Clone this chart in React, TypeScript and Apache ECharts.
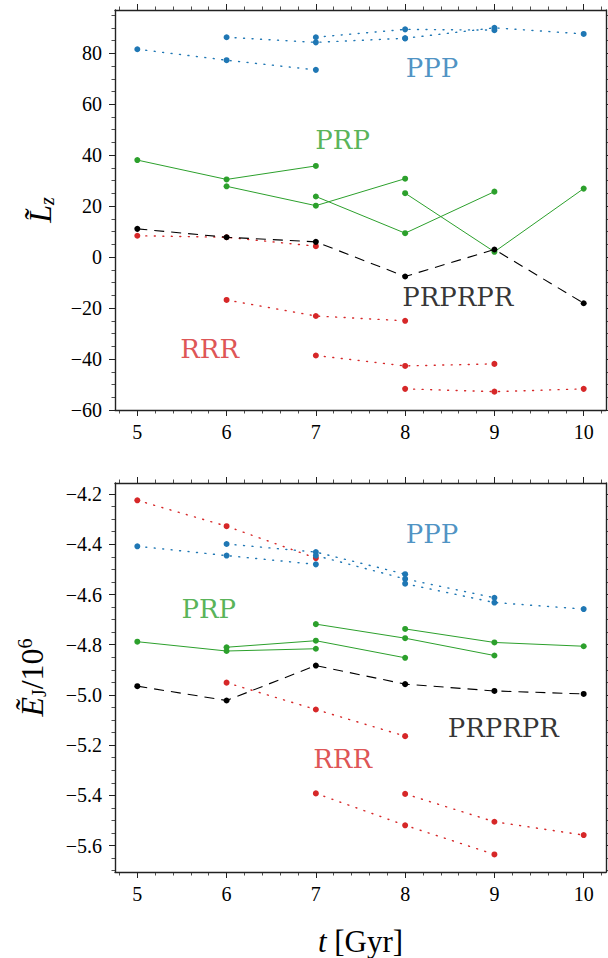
import React, { useEffect, useRef } from "react";
import * as echarts from "echarts";

// ---- data ----
const years = [5, 6, 7, 8, 9, 10];

// each family: 4 windows of 3 consecutive years, window i starts at years[i]
const lzPPP = [
  [81.6, 77.3, 73.5],
  [86.3, 84.3, 85.9],
  [86.3, 89.4, 89.1],
  [85.9, 90.0, 87.6],
];
const lzPRP = [
  [38.1, 30.5, 35.8],
  [27.8, 20.2, 30.8],
  [23.8, 9.4, 25.7],
  [25.1, 2.1, 26.9],
];
const lzRRR = [
  [8.4, 7.8, 4.3],
  [-16.8, -23.1, -25.0],
  [-38.6, -42.7, -41.9],
  [-51.7, -52.8, -51.7],
];
const lzPRPRPR = [11.1, 7.8, 6.0, -7.6, 3.0, -18.1];

const ejPPP = [
  [-4.408, -4.445, -4.48],
  [-4.399, -4.431, -4.519],
  [-4.445, -4.538, -4.613],
  [-4.557, -4.632, -4.658],
];
const ejPRP = [
  [-4.788, -4.825, -4.816],
  [-4.81, -4.784, -4.852],
  [-4.718, -4.774, -4.843],
  [-4.737, -4.791, -4.806],
];
const ejRRR = [
  [-4.225, -4.328, -4.455],
  [-4.951, -5.058, -5.164],
  [-5.392, -5.519, -5.635],
  [-5.394, -5.505, -5.558],
];
const ejPRPRPR = [-4.965, -5.022, -4.883, -4.957, -4.984, -4.996];

// tick labels
const xTicks = [5, 6, 7, 8, 9, 10];
const lzTicks = [-60, -40, -20, 0, 20, 40, 60, 80];
const ejTicks = [-5.6, -5.4, -5.2, -5.0, -4.8, -4.6, -4.4, -4.2];

// annotation text
const familyNames = ["PPP", "PRP", "PRPRPR", "RRR"];
const lzLabelAt = [
  [8.3, 74.2],
  [7.3, 46.1],
  [8.59, -15.8],
  [5.81, -36.1],
];
const ejLabelAt = [
  [8.3, -4.36],
  [5.8, -4.659],
  [9.1, -5.132],
  [7.3, -5.254],
];

const COLORS = {
  PPP: "#1f77b4",
  PRP: "#2ca02c",
  RRR: "#d62728",
  PRPRPR: "#000000",
};

const SERIF = "Liberation Serif";
const LABEL_FONT = "DejaVu Serif";

function range(a: number, b: number, step: number, scale: number) {
  const out: number[] = [];
  for (let v = a; v <= b; v += step) out.push(v / scale);
  return out;
}

const xMinor = range(480, 1020, 20, 100).filter((v) => Math.abs(v - Math.round(v)) > 1e-6);
const lzMinor = range(-60, 95, 5, 1).filter((v) => v % 20 !== 0);
const ejMinor = range(-570, -415, 5, 100).filter(
  (v) => Math.abs(v * 5 - Math.round(v * 5)) > 1e-6
);

const fmtNum = (v: number, digits: number) => {
  const s = Math.abs(v).toFixed(digits);
  return v < 0 ? "\u2212" + s : s;
};

const AXIS_COLOR = "#222";
const TICK_FS = 20;

function makeXAxes(gi: number, xmin: number, xmax: number, withName: boolean) {
  const base = {
    gridIndex: gi,
    type: "value" as const,
    min: xmin,
    max: xmax,
    splitLine: { show: false },
  };
  return [
    {
      ...base,
      position: "bottom",
      axisLine: { show: true, onZero: false, lineStyle: { color: AXIS_COLOR, width: 1.4 } },
      axisTick: { show: true, inside: false, length: 6, customValues: xTicks, lineStyle: { color: AXIS_COLOR, width: 1 } },
      axisLabel: {
        show: true,
        customValues: xTicks,
        margin: 12,
        fontFamily: SERIF,
        fontSize: TICK_FS,
        color: "#000",
        formatter: (v: number) => String(v),
      },
      ...(withName
        ? {
            name: "{it|t}{n| [Gyr]}",
            nameLocation: "middle",
            nameGap: 54,
            nameTextStyle: {
              rich: {
                it: { fontFamily: SERIF, fontStyle: "italic", fontSize: 31, color: "#000" },
                n: { fontFamily: SERIF, fontSize: 31, color: "#000" },
              },
            },
          }
        : {}),
    },
    {
      ...base,
      position: "bottom",
      axisLine: { show: false, onZero: false },
      axisTick: { show: true, inside: false, length: 3.5, customValues: xMinor, lineStyle: { color: AXIS_COLOR, width: 0.8 } },
      axisLabel: { show: false },
    },
    {
      ...base,
      position: "top",
      axisLine: { show: true, onZero: false, lineStyle: { color: AXIS_COLOR, width: 1.4 } },
      axisTick: { show: true, inside: false, length: 6, customValues: xTicks, lineStyle: { color: AXIS_COLOR, width: 1 } },
      axisLabel: { show: false },
    },
    {
      ...base,
      position: "top",
      axisLine: { show: false, onZero: false },
      axisTick: { show: true, inside: false, length: 3.5, customValues: xMinor, lineStyle: { color: AXIS_COLOR, width: 0.8 } },
      axisLabel: { show: false },
    },
  ];
}

function makeYAxes(
  gi: number,
  ymin: number,
  ymax: number,
  major: number[],
  minor: number[],
  digits: number,
  name: string,
  rich: any,
  nameGap: number
) {
  const base = {
    gridIndex: gi,
    type: "value" as const,
    min: ymin,
    max: ymax,
    splitLine: { show: false },
  };
  return [
    {
      ...base,
      position: "left",
      axisLine: { show: true, onZero: false, lineStyle: { color: AXIS_COLOR, width: 1.4 } },
      axisTick: { show: true, inside: false, length: 6, customValues: major, lineStyle: { color: AXIS_COLOR, width: 1 } },
      axisLabel: {
        show: true,
        customValues: major,
        margin: 13,
        fontFamily: SERIF,
        fontSize: TICK_FS,
        color: "#000",
        formatter: (v: number) => fmtNum(v, digits),
      },
      name,
      nameLocation: "middle",
      nameRotate: 90,
      nameGap,
      nameTextStyle: { rich },
    },
    {
      ...base,
      position: "left",
      axisLine: { show: false, onZero: false },
      axisTick: { show: true, inside: false, length: 3.5, customValues: minor, lineStyle: { color: AXIS_COLOR, width: 0.8 } },
      axisLabel: { show: false },
    },
    {
      ...base,
      position: "right",
      axisLine: { show: true, onZero: false, lineStyle: { color: AXIS_COLOR, width: 1.4 } },
      axisTick: { show: true, inside: false, length: 6, customValues: major, lineStyle: { color: AXIS_COLOR, width: 1 } },
      axisLabel: { show: false },
    },
    {
      ...base,
      position: "right",
      axisLine: { show: false, onZero: false },
      axisTick: { show: true, inside: false, length: 3.5, customValues: minor, lineStyle: { color: AXIS_COLOR, width: 0.8 } },
      axisLabel: { show: false },
    },
  ];
}

const DOTTED = { type: [1, 7.5] as number[], width: 1.4, cap: "round" as const };
const DASHED = { type: [10, 7] as number[], width: 1.1 };
const SOLID = { type: "solid" as const, width: 1 };

function windowSeries(
  windows: number[][],
  color: string,
  line: any,
  xi: number,
  yi: number,
  z: number
) {
  return windows.map((vals, i) => ({
    type: "line",
    xAxisIndex: xi,
    yAxisIndex: yi,
    data: vals.map((v, k) => [years[i + k], v]),
    symbol: "circle",
    symbolSize: 6,
    showSymbol: true,
    itemStyle: { color },
    lineStyle: { ...line, color },
    z,
    silent: true,
  }));
}

function fullSeries(vals: number[], color: string, line: any, xi: number, yi: number, z: number) {
  return {
    type: "line",
    xAxisIndex: xi,
    yAxisIndex: yi,
    data: vals.map((v, k) => [years[k], v]),
    symbol: "circle",
    symbolSize: 6,
    showSymbol: true,
    itemStyle: { color },
    lineStyle: { ...line, color },
    z,
    silent: true,
  };
}

function labelSeries(pos: number[][], xi: number, yi: number) {
  return {
    type: "scatter",
    xAxisIndex: xi,
    yAxisIndex: yi,
    symbolSize: 1,
    itemStyle: { color: "rgba(0,0,0,0)" },
    silent: true,
    z: 10,
    data: pos.map((p, i) => ({
      value: [p[0], p[1]],
      label: {
        show: true,
        position: "inside",
        formatter: familyNames[i],
        fontFamily: LABEL_FONT,
        fontSize: 26,
        color: (COLORS as any)[familyNames[i]],
      },
    })),
  };
}

export default function App() {
  const ref = useRef<HTMLDivElement>(null);
  useEffect(() => {
    document.body.style.margin = "0";
    if (!ref.current) return;
    const chart = echarts.init(ref.current, undefined, { renderer: "svg" });

    const lzRich = {
      it: { fontFamily: SERIF, fontStyle: "italic", fontSize: 32, color: "#000" },
      sub: { fontFamily: SERIF, fontStyle: "italic", fontSize: 20, color: "#000", verticalAlign: "bottom", padding: [14, 0, 0, 0] },
    };
    const ejRich = {
      it: { fontFamily: SERIF, fontStyle: "italic", fontSize: 32, color: "#000" },
      sub: { fontFamily: SERIF, fontSize: 20, color: "#000", verticalAlign: "bottom", padding: [14, 0, 0, 0] },
      n: { fontFamily: SERIF, fontSize: 32, color: "#000" },
      sup: { fontFamily: SERIF, fontSize: 20, color: "#000", verticalAlign: "top", padding: [0, 0, 14, 0] },
    };

    const option: any = {
      animation: false,
      backgroundColor: "#ffffff",
      textStyle: { fontFamily: SERIF },
      grid: [
        { left: 115, top: 10, width: 491, height: 400, containLabel: false },
        { left: 115, top: 483, width: 491, height: 401, containLabel: false },
      ],
      xAxis: [
        ...makeXAxes(0, 4.75, 10.25, false),
        ...makeXAxes(1, 4.75, 10.25, true),
      ],
      yAxis: [
        ...makeYAxes(0, -60, 97, lzTicks, lzMinor, 0, "{it|L\u0303}{sub|z}", lzRich, 58),
        ...makeYAxes(1, -5.705, -4.156, ejTicks, ejMinor, 1, "{it|\u1EBC}{sub|J}{n|/10}{sup|6}", ejRich, 66),
      ],
      series: [
        ...windowSeries(lzRRR, COLORS.RRR, DOTTED, 0, 0, 2),
        ...windowSeries(lzPRP, COLORS.PRP, SOLID, 0, 0, 3),
        ...windowSeries(lzPPP, COLORS.PPP, DOTTED, 0, 0, 4),
        fullSeries(lzPRPRPR, COLORS.PRPRPR, DASHED, 0, 0, 5),
        labelSeries(lzLabelAt, 0, 0),
        ...windowSeries(ejRRR, COLORS.RRR, DOTTED, 4, 4, 2),
        ...windowSeries(ejPRP, COLORS.PRP, SOLID, 4, 4, 3),
        ...windowSeries(ejPPP, COLORS.PPP, DOTTED, 4, 4, 4),
        fullSeries(ejPRPRPR, COLORS.PRPRPR, DASHED, 4, 4, 5),
        labelSeries(ejLabelAt, 4, 4),
      ],
    };
    chart.setOption(option);
    return () => chart.dispose();
  }, []);
  return <div ref={ref} style={{ width: 608, height: 958 }} />;
}
